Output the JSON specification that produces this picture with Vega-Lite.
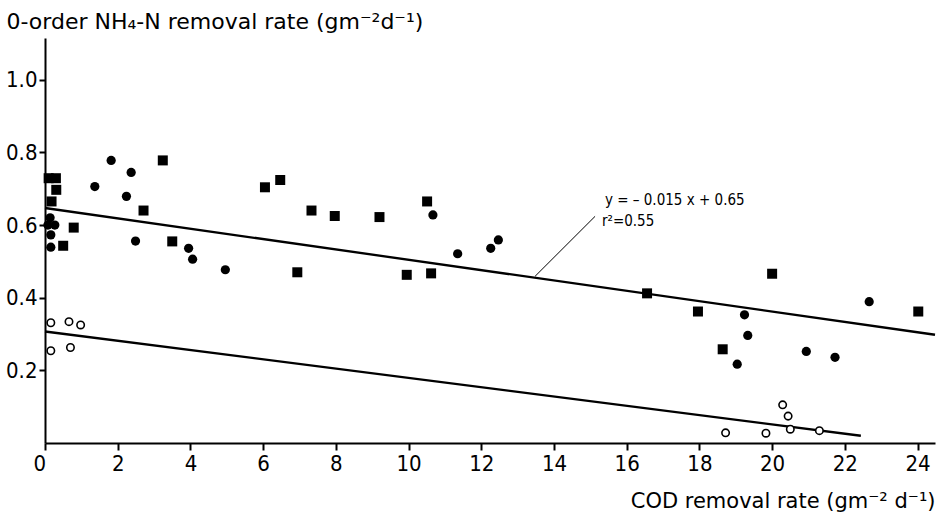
{
  "$schema": "https://vega.github.io/schema/vega-lite/v6.json",
  "width": 890,
  "height": 405,
  "autosize": {"type": "none"},
  "padding": {"left": 45, "top": 38, "right": 14, "bottom": 73},
  "background": "white",
  "config": {
    "view": {"stroke": null},
    "font": "Liberation Sans Narrow, DejaVu Sans Condensed, sans-serif",
    "axis": {
      "domainColor": "black", "domainWidth": 2, "tickColor": "black", "tickWidth": 2,
      "labelColor": "black", "titleColor": "black", "grid": false,
      "labelFont": "Liberation Sans Narrow, DejaVu Sans Condensed, sans-serif",
      "titleFont": "DejaVu Sans",
      "titleFontWeight": "normal"
    }
  },
  "datasets": {
    "lines": [
      {"line": "upper", "x": 0, "y": 0.647},
      {"line": "upper", "x": 24.48, "y": 0.298},
      {"line": "lower", "x": 0, "y": 0.307},
      {"line": "lower", "x": 22.44, "y": 0.02}
    ],
    "leader": [{"x": 13.48, "y": 0.459, "x2": 15.13, "y2": 0.624}],
    "notes": [
      {"x": 15.4, "y": 0.656, "label": "y = – 0.015 x  + 0.65"},
      {"x": 15.32, "y": 0.597, "label": "r²=0.55"}
    ],
    "points": [
      {"type": "square", "x": 0.1, "y": 0.729},
      {"type": "square", "x": 0.3, "y": 0.729},
      {"type": "square", "x": 0.31, "y": 0.697},
      {"type": "square", "x": 0.18, "y": 0.665},
      {"type": "square", "x": 0.5, "y": 0.543},
      {"type": "square", "x": 0.79, "y": 0.593},
      {"type": "square", "x": 3.24, "y": 0.778},
      {"type": "square", "x": 2.71, "y": 0.64},
      {"type": "square", "x": 3.5, "y": 0.555},
      {"type": "square", "x": 6.05, "y": 0.704},
      {"type": "square", "x": 6.47, "y": 0.724},
      {"type": "square", "x": 7.33, "y": 0.64},
      {"type": "square", "x": 7.97, "y": 0.625},
      {"type": "square", "x": 9.2, "y": 0.622},
      {"type": "square", "x": 10.51, "y": 0.665},
      {"type": "square", "x": 6.94, "y": 0.47},
      {"type": "square", "x": 9.95, "y": 0.463},
      {"type": "square", "x": 10.62, "y": 0.467},
      {"type": "square", "x": 16.56, "y": 0.412},
      {"type": "square", "x": 17.96, "y": 0.362},
      {"type": "square", "x": 18.64, "y": 0.258},
      {"type": "square", "x": 20.0, "y": 0.466},
      {"type": "square", "x": 24.02, "y": 0.362},
      {"type": "circle", "x": 0.08, "y": 0.6},
      {"type": "circle", "x": 0.14, "y": 0.62},
      {"type": "circle", "x": 0.27, "y": 0.6},
      {"type": "circle", "x": 0.16, "y": 0.573},
      {"type": "circle", "x": 0.16, "y": 0.539},
      {"type": "circle", "x": 1.37, "y": 0.706},
      {"type": "circle", "x": 1.82, "y": 0.778},
      {"type": "circle", "x": 2.37, "y": 0.745},
      {"type": "circle", "x": 2.24, "y": 0.679},
      {"type": "circle", "x": 2.49, "y": 0.556},
      {"type": "circle", "x": 3.95, "y": 0.536},
      {"type": "circle", "x": 4.06, "y": 0.506},
      {"type": "circle", "x": 4.96, "y": 0.477},
      {"type": "circle", "x": 10.67, "y": 0.628},
      {"type": "circle", "x": 11.35, "y": 0.521},
      {"type": "circle", "x": 12.26, "y": 0.536},
      {"type": "circle", "x": 12.47, "y": 0.559},
      {"type": "circle", "x": 19.24, "y": 0.353},
      {"type": "circle", "x": 19.33, "y": 0.296},
      {"type": "circle", "x": 19.04, "y": 0.217},
      {"type": "circle", "x": 20.94, "y": 0.252},
      {"type": "circle", "x": 21.73, "y": 0.236},
      {"type": "circle", "x": 22.67, "y": 0.389},
      {"type": "open", "x": 0.16, "y": 0.331},
      {"type": "open", "x": 0.66, "y": 0.334},
      {"type": "open", "x": 0.98, "y": 0.325},
      {"type": "open", "x": 0.16, "y": 0.254},
      {"type": "open", "x": 0.7, "y": 0.263},
      {"type": "open", "x": 20.29, "y": 0.105},
      {"type": "open", "x": 20.44, "y": 0.074},
      {"type": "open", "x": 20.5, "y": 0.038},
      {"type": "open", "x": 21.3, "y": 0.034},
      {"type": "open", "x": 18.72, "y": 0.028},
      {"type": "open", "x": 19.83, "y": 0.027}
    ]
  },
  "layer": [
    {
      "data": {"name": "lines"},
      "mark": {"type": "line", "color": "black", "strokeWidth": 2.3},
      "encoding": {
        "x": {
          "field": "x", "type": "quantitative",
          "scale": {"domain": [0, 24.48], "nice": false, "zero": false},
          "axis": {
            "values": [0, 2, 4, 6, 8, 10, 12, 14, 16, 18, 20, 22, 24],
            "tickSize": 7, "labelFontSize": 22, "labelPadding": 3,
            "labelOffset": {"condition": {"test": "datum.value === 0", "value": -12}, "value": 0},
            "title": "COD removal rate (gm⁻² d⁻¹)", "titleFontSize": 21,
            "titleAnchor": null, "titleAlign": "right", "titleBaseline": "alphabetic",
            "titleX": 890, "titleY": 64
          }
        },
        "y": {
          "field": "y", "type": "quantitative",
          "scale": {"domain": [0, 1.115], "nice": false, "zero": false},
          "axis": {
            "values": [0.2, 0.4, 0.6, 0.8, 1.0], "format": ".1f",
            "tickSize": 6, "labelFontSize": 22, "labelPadding": 2,
            "title": "0-order NH₄-N removal rate (gm⁻²d⁻¹)", "titleFontSize": 22,
            "titleAngle": 0, "titleAlign": "left", "titleBaseline": "alphabetic",
            "titleX": -39, "titleY": -10
          }
        },
        "detail": {"field": "line"}
      }
    },
    {
      "data": {"name": "leader"},
      "mark": {"type": "rule", "color": "black", "strokeWidth": 1},
      "encoding": {
        "x": {"field": "x", "type": "quantitative"},
        "y": {"field": "y", "type": "quantitative"},
        "x2": {"field": "x2"},
        "y2": {"field": "y2"}
      }
    },
    {
      "data": {"name": "points"},
      "transform": [{"filter": "datum.type === 'square'"}],
      "mark": {"type": "point", "shape": "square", "filled": true, "color": "black", "size": 100, "opacity": 1},
      "encoding": {
        "x": {"field": "x", "type": "quantitative"},
        "y": {"field": "y", "type": "quantitative"}
      }
    },
    {
      "data": {"name": "points"},
      "transform": [{"filter": "datum.type === 'circle'"}],
      "mark": {"type": "point", "shape": "circle", "filled": true, "color": "black", "size": 85, "opacity": 1},
      "encoding": {
        "x": {"field": "x", "type": "quantitative"},
        "y": {"field": "y", "type": "quantitative"}
      }
    },
    {
      "data": {"name": "points"},
      "transform": [{"filter": "datum.type === 'open'"}],
      "mark": {"type": "point", "shape": "circle", "filled": false, "fill": "white", "stroke": "black", "strokeWidth": 1.6, "size": 55, "opacity": 1},
      "encoding": {
        "x": {"field": "x", "type": "quantitative"},
        "y": {"field": "y", "type": "quantitative"}
      }
    },
    {
      "data": {"name": "notes"},
      "mark": {"type": "text", "align": "left", "baseline": "alphabetic", "fontSize": 15, "color": "black"},
      "encoding": {
        "x": {"field": "x", "type": "quantitative"},
        "y": {"field": "y", "type": "quantitative"},
        "text": {"field": "label"}
      }
    }
  ]
}
